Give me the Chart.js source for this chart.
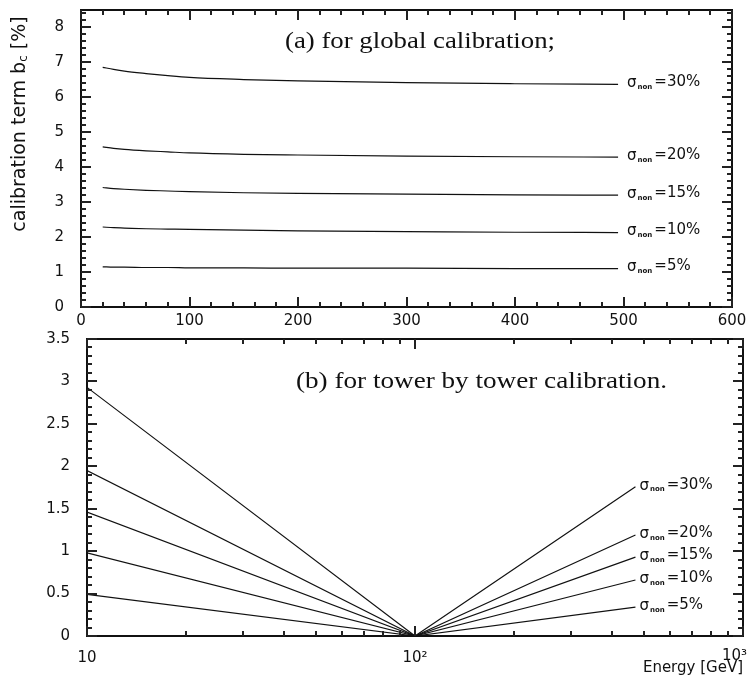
<!DOCTYPE html>
<html>
<head>
<meta charset="utf-8">
<script src="https://cdn.jsdelivr.net/npm/chart.js@4/dist/chart.umd.min.js"></script>
<style>
  body { margin: 0; background: #fff; }
  #wrap { position: relative; width: 753px; height: 678px; }
  canvas { position: absolute; left: 0; }
  #top { top: 0; }
  #bottom { top: 325px; }
</style>
</head>
<body>
<div id="wrap">
  <canvas id="top" width="753" height="335"></canvas>
  <canvas id="bottom" width="753" height="353"></canvas>
</div>
<script>
// (a) global calibration, linear energy axis
const energyGlobal = [20, 30, 40, 60, 80, 100, 150, 200, 300, 400, 495];
const global30 = [6.86, 6.80, 6.75, 6.68, 6.62, 6.57, 6.51, 6.47, 6.42, 6.39, 6.37];
const global20 = [4.58, 4.54, 4.51, 4.47, 4.44, 4.41, 4.37, 4.35, 4.32, 4.30, 4.29];
const global15 = [3.42, 3.39, 3.37, 3.34, 3.32, 3.30, 3.27, 3.25, 3.23, 3.21, 3.20];
const global10 = [2.29, 2.27, 2.26, 2.24, 2.23, 2.22, 2.20, 2.18, 2.16, 2.14, 2.13];
const global5 = [1.15, 1.14, 1.14, 1.13, 1.13, 1.12, 1.12, 1.11, 1.11, 1.10, 1.10];

// (b) tower by tower calibration, log energy axis
const energyTower = [10, 100, 470];
const tower30 = [2.93, 0, 1.76];
const tower20 = [1.95, 0, 1.19];
const tower15 = [1.46, 0, 0.93];
const tower10 = [0.98, 0, 0.66];
const tower5 = [0.49, 0, 0.34];

const sigmaLabels = ['30%', '20%', '15%', '10%', '5%'];

const xTicksGlobal = [0, 100, 200, 300, 400, 500, 600];
const yTicksGlobal = [0, 1, 2, 3, 4, 5, 6, 7, 8];
const xTicksTower = [10, 100, 1000];
const xTickLabelsTower = ['10', '10²', '10³'];
const yTicksTower = [0, 0.5, 1, 1.5, 2, 2.5, 3, 3.5];

const tickFont = { family: 'DejaVu Sans', size: 15 };
const ink = '#111';

function minorSteps(from, to, step) {
  const out = [];
  const n = Math.round((to - from) / step);
  for (let k = 0; k <= n; k++) out.push(+(from + k * step).toFixed(3));
  return out;
}
const logMinor = [];
[10, 100].forEach(d => { for (let k = 2; k <= 9; k++) logMinor.push(k * d); });

// per-panel decoration, kept out of chart options so arrays are not resolved per index
const panelDeco = {
  top: {
    xMajor: xTicksGlobal, xMinor: minorSteps(0, 600, 20),
    yMajor: yTicksGlobal, yMinor: minorSteps(0, 8.4, 0.2),
    labelDx: 9,
    caption: '(a) for global calibration;', captionX: 285, captionY: 42, captionW: 270,
    yTitle: true
  },
  bottom: {
    xMajor: xTicksTower, xMinor: logMinor,
    yMajor: yTicksTower, yMinor: minorSteps(0, 3.5, 0.1),
    labelDx: 4,
    caption: '(b) for tower by tower calibration.', captionX: 296, captionY: 57, captionW: 371,
    xTitle: 'Energy [GeV]',
    lastXLabel: true
  }
};

function toPoints(xs, ys) {
  return xs.map((x, i) => ({ x: x, y: ys[i] }));
}

function drawSigma(ctx, x, y, pct) {
  ctx.textBaseline = 'middle';
  ctx.textAlign = 'left';
  ctx.fillStyle = ink;
  ctx.font = '15px "DejaVu Sans"';
  ctx.fillText('σ', x, y);
  let cx = x + ctx.measureText('σ').width + 1;
  ctx.font = 'bold 7px "DejaVu Sans"';
  ctx.fillText('non', cx, y + 4);
  cx += ctx.measureText('non').width + 2;
  ctx.font = '15px "DejaVu Sans"';
  ctx.fillText('=' + pct, cx, y - 1);
}

const frameTicks = {
  id: 'frameTicks',
  afterDraw(chart) {
    const opts = panelDeco[chart.canvas.id];
    const ctx = chart.ctx;
    const a = chart.chartArea;
    const xs = chart.scales.x, ys = chart.scales.y;
    const L = Math.round(a.left), R = Math.round(a.right);
    const T = Math.round(a.top), B = Math.round(a.bottom);
    ctx.save();
    ctx.fillStyle = ink;
    // frame
    ctx.fillRect(L - 1, T - 1, R - L + 2, 2);
    ctx.fillRect(L - 1, B - 1, R - L + 2, 2);
    ctx.fillRect(L - 1, T - 1, 2, B - T + 2);
    ctx.fillRect(R - 1, T - 1, 2, B - T + 2);
    // inward ticks on all four sides
    ctx.fillStyle = '#222';
    function xt(vals, len) {
      for (const v of vals) {
        const p = Math.round(xs.getPixelForValue(v));
        if (!(p >= L - 1 && p <= R + 1)) continue;
        ctx.fillRect(p - 1, B - len, 2, len);
        ctx.fillRect(p - 1, T, 2, len);
      }
    }
    function yt(vals, len) {
      for (const v of vals) {
        const p = Math.round(ys.getPixelForValue(v));
        if (!(p >= T - 1 && p <= B + 1)) continue;
        ctx.fillRect(L, p - 1, len, 2);
        ctx.fillRect(R - len, p - 1, len, 2);
      }
    }
    xt(opts.xMinor, 5); xt(opts.xMajor, 10);
    yt(opts.yMinor, 5); yt(opts.yMajor, 10);

    // curve labels at the end of each line
    chart.data.datasets.forEach((ds, i) => {
      const last = ds.data[ds.data.length - 1];
      const px = xs.getPixelForValue(last.x);
      const py = ys.getPixelForValue(last.y);
      drawSigma(ctx, px + opts.labelDx, py - 1, sigmaLabels[i]);
    });

    // panel caption, stretched to the width of the original typesetting
    ctx.save();
    ctx.font = '23px "Liberation Serif"';
    ctx.fillStyle = ink;
    ctx.textAlign = 'left';
    ctx.textBaseline = 'middle';
    const cw = ctx.measureText(opts.caption).width;
    ctx.translate(opts.captionX, opts.captionY);
    ctx.scale(opts.captionW / cw, 1);
    ctx.fillText(opts.caption, 0, 0);
    ctx.restore();

    if (opts.yTitle) {
      ctx.save();
      ctx.translate(20, 124);
      ctx.rotate(-Math.PI / 2);
      ctx.fillStyle = ink;
      ctx.textBaseline = 'middle';
      ctx.textAlign = 'left';
      const big = '19px "DejaVu Sans"', small = '12px "DejaVu Sans"';
      const p1 = 'calibration term b', p2 = 'c', p3 = ' [%]';
      ctx.font = big;
      const w1 = ctx.measureText(p1).width, w3 = ctx.measureText(p3).width;
      ctx.font = small;
      const w2 = ctx.measureText(p2).width;
      let x = -(w1 + w2 + w3) / 2;
      ctx.font = big;
      ctx.fillText(p1, x, 0); x += w1;
      ctx.font = small;
      ctx.fillText(p2, x, 4); x += w2;
      ctx.font = big;
      ctx.fillText(p3, x, 0);
      ctx.restore();
    }
    if (opts.lastXLabel) {
      // last decade label sits flush with the frame edge, as in the original
      ctx.font = '15px "DejaVu Sans"';
      ctx.fillStyle = ink;
      ctx.textAlign = 'right';
      ctx.textBaseline = 'top';
      const n = xTicksTower.length - 1;
      ctx.fillText(xTickLabelsTower[n], xs.getPixelForValue(xTicksTower[n]) + 4, B + 13);
    }
    if (opts.xTitle) {
      ctx.font = '15px "DejaVu Sans"';
      ctx.fillStyle = ink;
      ctx.textAlign = 'right';
      ctx.textBaseline = 'middle';
      ctx.fillText(opts.xTitle, R, 343);
    }
    ctx.restore();
  }
};

function lineSet(data, smooth) {
  return {
    data: data,
    borderColor: ink,
    borderWidth: 1.2,
    pointRadius: 0,
    fill: false,
    cubicInterpolationMode: smooth ? 'monotone' : 'default',
    tension: 0
  };
}

const hidden = { display: false };

// fixed axis boxes so the plot frames land where the original has them
function fixX(s, h) {
  s.height = h;
  s.paddingLeft = 0;
  s.paddingRight = 0;
}
function fixY(s, w) {
  s.width = w;
  s.paddingTop = 0;
  s.paddingBottom = 0;
}

new Chart(document.getElementById('top'), {
  type: 'line',
  data: {
    datasets: [
      lineSet(toPoints(energyGlobal, global30), true),
      lineSet(toPoints(energyGlobal, global20), true),
      lineSet(toPoints(energyGlobal, global15), true),
      lineSet(toPoints(energyGlobal, global10), true),
      lineSet(toPoints(energyGlobal, global5), true)
    ]
  },
  options: {
    responsive: false,
    animation: false,
    layout: { padding: { top: 10, right: 21, left: 0, bottom: 0 } },
    plugins: { legend: hidden, tooltip: { enabled: false } },
    scales: {
      x: {
        type: 'linear', min: 0, max: 600,
        grid: { display: false, drawTicks: false },
        border: { display: false },
        afterBuildTicks: s => { s.ticks = xTicksGlobal.map(v => ({ value: v })); },
        afterFit: s => fixX(s, 28),
        ticks: { font: tickFont, color: ink, padding: 5, maxRotation: 0, autoSkip: false, callback: v => String(v) }
      },
      y: {
        type: 'linear', min: 0, max: 8.5,
        grid: { display: false, drawTicks: false },
        border: { display: false },
        afterBuildTicks: s => { s.ticks = yTicksGlobal.map(v => ({ value: v })); },
        afterFit: s => fixY(s, 81),
        ticks: { font: tickFont, color: ink, padding: 17, autoSkip: false, callback: v => String(v) }
      }
    }
  },
  plugins: [frameTicks]
});

new Chart(document.getElementById('bottom'), {
  type: 'line',
  data: {
    datasets: [
      lineSet(toPoints(energyTower, tower30), false),
      lineSet(toPoints(energyTower, tower20), false),
      lineSet(toPoints(energyTower, tower15), false),
      lineSet(toPoints(energyTower, tower10), false),
      lineSet(toPoints(energyTower, tower5), false)
    ]
  },
  options: {
    responsive: false,
    animation: false,
    layout: { padding: { top: 14, right: 10, left: 0, bottom: 0 } },
    plugins: { legend: hidden, tooltip: { enabled: false } },
    scales: {
      x: {
        type: 'logarithmic', min: 10, max: 1000,
        grid: { display: false, drawTicks: false },
        border: { display: false },
        afterBuildTicks: s => { s.ticks = xTicksTower.map(v => ({ value: v })); },
        afterFit: s => fixX(s, 42),
        ticks: {
          font: tickFont, color: ink, padding: 13, maxRotation: 0, autoSkip: false,
          // the last label is drawn by the plugin so it can sit flush right
          callback: (v, i) => (i === xTicksTower.length - 1 ? '' : xTickLabelsTower[i])
        }
      },
      y: {
        type: 'linear', min: 0, max: 3.5,
        grid: { display: false, drawTicks: false },
        border: { display: false },
        afterBuildTicks: s => { s.ticks = yTicksTower.map(v => ({ value: v })); },
        afterFit: s => fixY(s, 87),
        ticks: { font: tickFont, color: ink, padding: 17, autoSkip: false, callback: v => String(v) }
      }
    }
  },
  plugins: [frameTicks]
});
</script>
</body>
</html>
